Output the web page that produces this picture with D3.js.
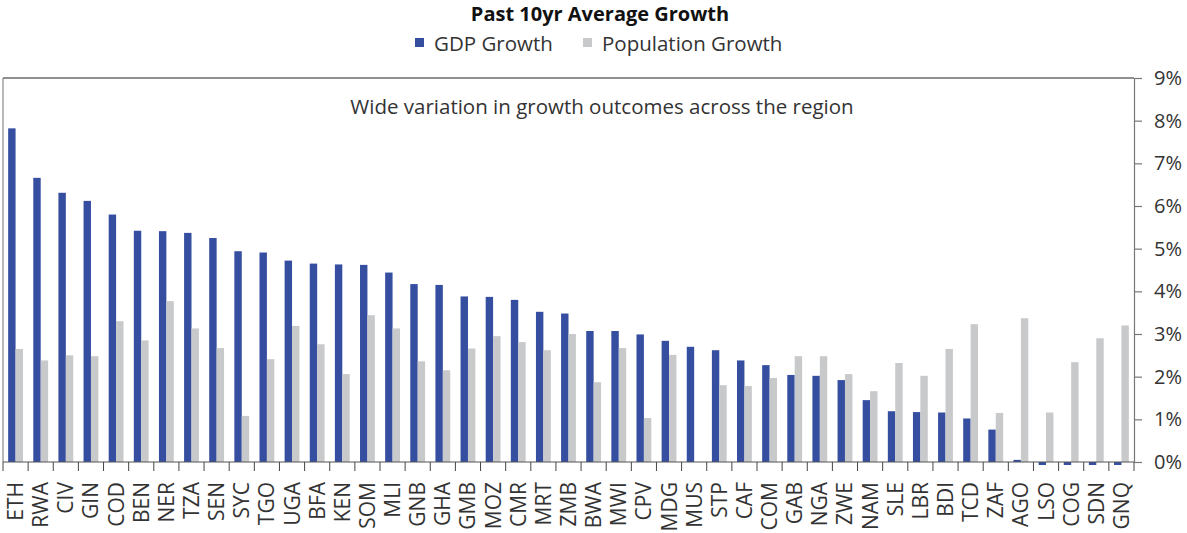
<!DOCTYPE html>
<html>
<head>
<meta charset="utf-8">
<script src="https://cdn.jsdelivr.net/npm/d3@7"></script>
<style>
  body { margin: 0; background: #fff; }
  svg { display: block; font-family: "Open Sans", sans-serif; }
</style>
</head>
<body>
<div id="chart"></div>
<script>
const width = 1187;
const height = 533;

const countries = ['ETH', 'RWA', 'CIV', 'GIN', 'COD', 'BEN', 'NER', 'TZA', 'SEN', 'SYC',
    'TGO', 'UGA', 'BFA', 'KEN', 'SOM', 'MLI', 'GNB', 'GHA', 'GMB', 'MOZ',
    'CMR', 'MRT', 'ZMB', 'BWA', 'MWI', 'CPV', 'MDG', 'MUS', 'STP', 'CAF',
    'COM', 'GAB', 'NGA', 'ZWE', 'NAM', 'SLE', 'LBR', 'BDI', 'TCD', 'ZAF',
    'AGO', 'LSO', 'COG', 'SDN', 'GNQ'];

const gdpGrowth = [7.82, 6.66, 6.31, 6.12, 5.80, 5.42, 5.41, 5.37, 5.25, 4.94,
    4.91, 4.72, 4.65, 4.63, 4.62, 4.44, 4.17, 4.15, 3.88, 3.87,
    3.80, 3.52, 3.48, 3.07, 3.07, 2.99, 2.84, 2.70, 2.62, 2.38,
    2.27, 2.04, 2.02, 1.92, 1.45, 1.19, 1.17, 1.16, 1.02, 0.76,
    0.05, -0.07, -0.07, -0.07, -0.07];

const popGrowth = [2.65, 2.38, 2.50, 2.48, 3.30, 2.85, 3.77, 3.13, 2.67, 1.08,
    2.41, 3.19, 2.76, 2.06, 3.44, 3.13, 2.36, 2.15, 2.66, 2.95,
    2.81, 2.62, 3.00, 1.87, 2.67, 1.03, 2.51, 0, 1.80, 1.78,
    1.97, 2.48, 2.48, 2.06, 1.66, 2.32, 2.02, 2.65, 3.23, 1.15,
    3.37, 1.16, 2.34, 2.90, 3.20];

const yTicks = [0, 1, 2, 3, 4, 5, 6, 7, 8, 9];

const seriesNames = ['GDP Growth', 'Population Growth'];
const colors = ['#354ea0', '#c8c9cb'];

const plotLeft = 3, plotRight = 1134, plotTop = 78, plotBottom = 462;

const svg = d3.select('#chart')
    .append('svg')
    .attr('width', width)
    .attr('height', height);

const x = d3.scaleBand()
    .domain(countries)
    .range([plotLeft, plotRight]);

const y = d3.scaleLinear()
    .domain([0, 9])
    .range([plotBottom, plotTop]);

const bw = x.bandwidth() * 0.295;
const offset = x.bandwidth() / 2 - bw;

// frame
svg.append('line')
    .attr('x1', plotLeft).attr('x2', plotRight)
    .attr('y1', plotTop).attr('y2', plotTop)
    .attr('stroke', '#222').attr('stroke-width', 1.2);
svg.append('line')
    .attr('x1', plotLeft).attr('x2', plotLeft)
    .attr('y1', plotTop).attr('y2', plotBottom)
    .attr('stroke', '#888').attr('stroke-width', 1.2);

// bars
svg.selectAll('rect.gdp')
    .data(countries)
    .enter()
    .append('rect')
    .attr('class', 'gdp')
    .attr('x', d => x(d) + offset)
    .attr('width', bw)
    .attr('y', (d, i) => y(Math.max(0, gdpGrowth[i])))
    .attr('height', (d, i) => Math.abs(y(gdpGrowth[i]) - y(0)))
    .attr('fill', colors[0]);

svg.selectAll('rect.pop')
    .data(countries)
    .enter()
    .append('rect')
    .attr('class', 'pop')
    .attr('x', d => x(d) + offset + bw)
    .attr('width', bw)
    .attr('y', (d, i) => y(Math.max(0, popGrowth[i])))
    .attr('height', (d, i) => Math.abs(y(popGrowth[i]) - y(0)))
    .attr('fill', colors[1]);

// x axis, ticks sit between categories
svg.append('line')
    .attr('x1', plotLeft).attr('x2', plotRight)
    .attr('y1', plotBottom).attr('y2', plotBottom)
    .attr('stroke', '#555').attr('stroke-width', 1.2);

const tickXs = countries.map(d => x(d)).concat([plotRight]);
svg.selectAll('line.xtick')
    .data(tickXs)
    .enter()
    .append('line')
    .attr('class', 'xtick')
    .attr('x1', d => d).attr('x2', d => d)
    .attr('y1', plotBottom).attr('y2', plotBottom + 9)
    .attr('stroke', '#444').attr('stroke-width', 1);

svg.selectAll('text.xlabel')
    .data(countries)
    .enter()
    .append('text')
    .attr('class', 'xlabel')
    .attr('transform', d => `translate(${x(d) + x.bandwidth() / 2 + 7.5},${plotBottom + 20}) rotate(-90)`)
    .attr('text-anchor', 'end')
    .attr('font-size', '21px')
    .attr('fill', '#333')
    .text(d => d);

// right y axis
const yAxis = svg.append('g')
    .attr('transform', `translate(${plotRight},0)`)
    .call(d3.axisRight(y).tickValues(yTicks).tickSize(8).tickPadding(12).tickFormat(d => d + '%'));
yAxis.select('.domain').attr('stroke', '#777').attr('stroke-width', 1.2);
yAxis.selectAll('.tick line').attr('stroke', '#777').attr('stroke-width', 1.2);
yAxis.selectAll('.tick text')
    .attr('font-size', '20px')
    .attr('font-family', '"Open Sans", sans-serif')
    .attr('fill', '#333');

// title and legend
svg.append('text')
    .attr('x', 600).attr('y', 21)
    .attr('text-anchor', 'middle')
    .attr('font-size', '20px')
    .attr('font-weight', 'bold')
    .attr('fill', '#111')
    .text('Past 10yr Average Growth');

const legendX = [415, 583];
const legend = svg.selectAll('g.legend')
    .data(seriesNames)
    .enter()
    .append('g')
    .attr('class', 'legend')
    .attr('transform', (d, i) => `translate(${legendX[i]},43)`);
legend.append('rect')
    .attr('x', 0).attr('y', -5)
    .attr('width', 9).attr('height', 9)
    .attr('fill', (d, i) => colors[i]);
legend.append('text')
    .attr('x', 19).attr('y', 8)
    .attr('font-size', '20.5px')
    .attr('fill', '#333')
    .text(d => d);

svg.append('text')
    .attr('x', 602).attr('y', 114)
    .attr('text-anchor', 'middle')
    .attr('font-size', '20.5px')
    .attr('fill', '#333')
    .text('Wide variation in growth outcomes across the region');
</script>
</body>
</html>
